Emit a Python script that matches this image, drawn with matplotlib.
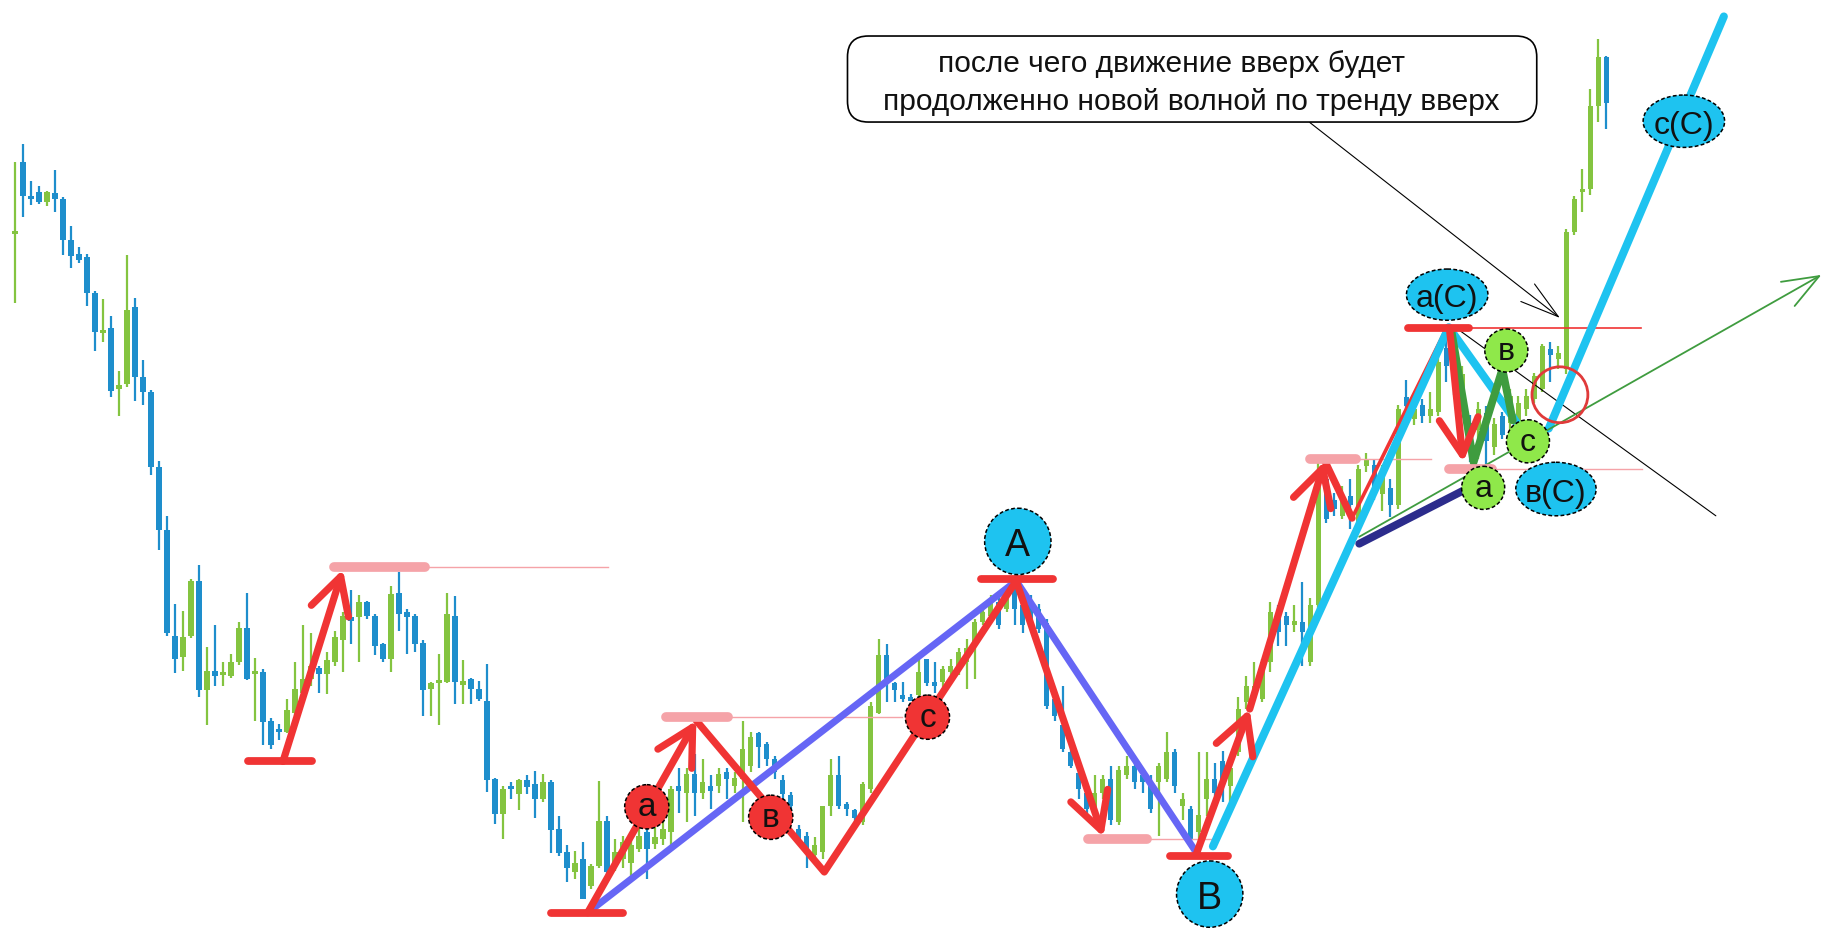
import numpy as np
import matplotlib.pyplot as plt
from matplotlib.patches import Ellipse, FancyArrowPatch, FancyBboxPatch
from matplotlib.transforms import offset_copy

plt.rcParams['font.family'] = ['Liberation Sans', 'DejaVu Sans']

# OHLC per bar, given as chart rows: a smaller number sits higher on the chart
opens = [
    202, 140, 169, 166, 174, 167, 172, 207, 219, 222,
    253, 286, 283, 335, 331, 265, 325, 338, 402, 456,
    547, 565, 547, 500, 594, 577, 580, 582, 570, 540,
    579, 578, 620, 627, 630, 613, 596, 584, 575, 580,
    570, 551, 531, 531, 518, 530, 554, 567, 510, 527,
    530, 553, 593, 587, 587, 530, 588, 584, 593, 603,
    670, 700, 676, 683, 671, 674, 687, 673, 713, 733,
    750, 739, 762, 745, 706, 745, 739, 742, 730, 716,
    726, 722, 716, 676, 682, 666, 682, 676, 676, 664,
    676, 670, 659, 631, 640, 653, 671, 684, 713, 719,
    735, 733, 693, 667, 692, 697, 707, 679, 613, 564,
    588, 598, 600, 598, 567, 587, 587, 578, 576, 570,
    555, 535, 530, 518, 524, 507, 521, 516, 524, 536,
    601, 624, 647, 665, 682, 699, 682, 670, 707, 667,
    659, 667, 676, 673, 670, 647, 693, 696, 716, 687,
    670, 655, 676, 647, 604, 598, 601, 570, 530, 530,
    538, 535, 570, 521, 412, 430, 444, 427, 450, 401,
    400, 425, 420, 435, 342, 361, 349, 358, 355, 300,
    312, 338, 364, 370, 356, 385, 358, 364, 364, 352,
    344, 335, 301, 309, 318, 200, 166, 163, 92, 50,
]
highs = [
    140, 125, 156, 161, 165, 147, 170, 195, 213, 219,
    251, 258, 272, 320, 220, 257, 310, 336, 397, 444,
    520, 526, 498, 486, 557, 538, 570, 563, 535, 510,
    566, 576, 618, 623, 601, 570, 538, 545, 573, 561,
    543, 527, 508, 512, 517, 528, 553, 504, 492, 524,
    528, 551, 587, 563, 510, 513, 568, 583, 586, 571,
    669, 676, 673, 670, 667, 663, 666, 671, 702, 727,
    732, 724, 743, 672, 702, 722, 719, 719, 710, 713,
    707, 704, 676, 661, 661, 649, 653, 667, 661, 661,
    664, 620, 630, 630, 638, 650, 667, 681, 710, 716,
    720, 693, 653, 650, 690, 696, 673, 604, 550, 554,
    587, 587, 597, 567, 567, 570, 573, 567, 558, 550,
    533, 521, 512, 515, 504, 501, 515, 512, 520, 533,
    598, 590, 642, 659, 679, 667, 667, 659, 659, 650,
    656, 662, 667, 656, 630, 644, 682, 693, 647, 647,
    656, 646, 655, 600, 582, 570, 567, 518, 521, 527,
    521, 501, 515, 398, 407, 424, 418, 412, 400, 390,
    395, 400, 412, 349, 327, 349, 344, 338, 306, 285,
    300, 315, 357, 346, 350, 360, 355, 335, 341, 335,
    321, 296, 295, 298, 198, 169, 146, 77, 34, 49,
]
lows = [
    261, 187, 177, 176, 178, 183, 220, 231, 227, 264,
    302, 295, 342, 358, 333, 345, 349, 409, 473, 547,
    579, 577, 549, 600, 624, 590, 590, 583, 572, 585,
    620, 641, 644, 637, 631, 616, 599, 590, 596, 597,
    573, 578, 554, 570, 533, 564, 570, 578, 543, 563,
    561, 616, 616, 624, 588, 606, 606, 606, 603, 681,
    709, 722, 687, 697, 683, 704, 690, 734, 736, 759,
    756, 773, 765, 747, 756, 749, 747, 756, 733, 756,
    730, 727, 727, 699, 707, 702, 687, 696, 682, 687,
    682, 707, 664, 661, 659, 670, 687, 704, 724, 747,
    739, 739, 702, 696, 702, 710, 710, 682, 614, 604,
    604, 604, 603, 600, 590, 596, 591, 587, 581, 593,
    584, 538, 533, 541, 527, 538, 545, 538, 545, 610,
    620, 647, 661, 687, 699, 702, 687, 710, 710, 670,
    679, 682, 699, 719, 673, 682, 705, 728, 725, 702,
    685, 690, 690, 650, 610, 601, 604, 578, 556, 556,
    544, 573, 573, 524, 450, 444, 447, 455, 455, 406,
    430, 440, 445, 438, 356, 366, 364, 364, 358, 329,
    340, 345, 398, 395, 402, 392, 378, 370, 370, 358,
    347, 338, 329, 318, 322, 203, 183, 168, 106, 112,
]
closes = [
    199, 169, 172, 174, 166, 172, 207, 221, 224, 253,
    286, 284, 337, 332, 267, 325, 338, 402, 456, 545,
    567, 548, 500, 594, 577, 582, 578, 570, 540, 584,
    577, 621, 641, 630, 611, 593, 584, 573, 580, 568,
    548, 530, 533, 518, 530, 556, 567, 511, 528, 531,
    554, 594, 588, 585, 528, 587, 586, 593, 601, 671,
    700, 679, 679, 671, 677, 687, 673, 714, 734, 747,
    742, 773, 745, 706, 750, 733, 724, 727, 719, 730,
    720, 713, 679, 680, 666, 682, 673, 680, 666, 670,
    669, 644, 634, 643, 653, 664, 683, 693, 722, 730,
    727, 693, 667, 693, 696, 704, 674, 607, 564, 587,
    594, 601, 601, 578, 588, 590, 576, 573, 561, 558,
    535, 527, 518, 538, 507, 524, 538, 535, 541, 607,
    616, 644, 659, 679, 696, 682, 670, 705, 662, 659,
    673, 673, 696, 659, 647, 676, 687, 722, 701, 670,
    682, 672, 661, 610, 590, 590, 570, 527, 544, 538,
    534, 544, 521, 410, 447, 438, 427, 435, 404, 395,
    420, 410, 435, 352, 350, 352, 358, 352, 312, 315,
    330, 322, 375, 352, 380, 365, 375, 341, 347, 341,
    324, 298, 306, 304, 200, 172, 163, 92, 50, 89,
]

# horizontal marks: (first bar, last bar, level)
red_bars = [(29.1, 37.1, 655), (67.0, 76.0, 785), (120.8, 129.8, 498),
            (144.4, 151.7, 736), (174.2, 181.8, 283)]
pink_bars = [(39.9, 51.2, 488), (81.4, 89.1, 617), (134.2, 141.5, 722),
             (161.9, 167.7, 395), (179.3, 184.7, 404)]
pink_rays = [(51.2, 74.1, 488), (89.1, 110.9, 617), (141.5, 149.5, 722),
             (167.7, 177.1, 395), (184.7, 203.5, 404)]
red_ray = (181.8, 203.3, 283)

# wave drawing, points are (bar, level)
red_arrows = [((33.5, 655), (41.0, 490)), ((71.6, 785), (85.2, 620)),
              ((125.2, 500), (136.1, 720)), ((147.7, 735), (154.4, 610)),
              ((154.4, 610), (163.8, 397)), ((179.4, 284), (181.1, 398))]
red_zigzag = [(85.2, 620), (101.2, 750), (125.2, 500)]
red_dip = [(163.8, 397), (167.2, 446)]
red_thin = [(167.2, 446), (179.0, 283)]
violet_path = [(71.6, 785), (125.2, 500), (147.7, 733)]
cyan_down = [(149.8, 728), (179.3, 282), (187.8, 364)]
cyan_up = [(191.8, 369), (213.7, 15)]
green_zigzag = [(179.6, 284), (182.4, 398), (186.0, 318), (187.3, 362)]
navy_line = [(168.1, 468), (181.2, 422)]
trend_arrow = ((168.1, 462), (225.9, 237))
pointer_arrow = ((161.9, 106), (193.2, 274))
black_line = [(179.9, 281), (212.7, 444)]
ring = (193.2, 340, 48)

# labels: (text, bar, level, width, height)
red_labels = [('a', 79.0, 694, 38, 38), ('в', 94.5, 703, 38, 38), ('c', 114.1, 617, 38, 38)]
cyan_labels = [('A', 125.4, 466, 57, 57), ('B', 149.4, 769, 57, 57)]
lime_labels = [('в', 186.5, 302, 37, 37), ('a', 183.6, 420, 37, 37), ('c', 189.2, 380, 37, 37)]
oval_labels = [('a(C)', 179.1, 254, 70, 44), ('в(C)', 192.7, 421, 69, 46), ('c(C)', 208.7, 105, 70, 45)]

note_lines = ['после чего движение вверх будет', 'продолженно новой волной по тренду вверх']
note_anchor = [(144.6, 61.6), (147.1, 94.5)]
note_box = (104.1, 31.8, 86.2, 73.9)

BLUE = '#1e8ecc'
GREEN = '#84c440'
RED = '#f03434'
PINK = '#f5a3a8'
CYAN = '#1ec3f0'
VIOLET = '#6666f5'
LIME = '#8fe84a'
DKGREEN = '#3f9c3f'
NAVY = '#2c2c8c'
BAR_PX = 6.87  # canvas units per bar, keeps the badges round

fig = plt.figure(figsize=(18.25, 9.37), dpi=100)
ax = fig.add_axes([0, 0, 1, 1])
ax.set_xlim(-1.89, 226.35)
ax.set_ylim(805, 0)
ax.axis('off')

# candles
o, h, l, c = map(np.array, (opens, highs, lows, closes))
idx = np.arange(len(o))
colors = np.where(c < o, GREEN, BLUE)
ax.vlines(idx, h, l, colors=colors, lw=1.6, zorder=1)
ax.bar(idx, np.maximum(np.abs(o - c), 3), bottom=np.minimum(o, c),
       width=0.68, color=colors, zorder=1)


def path(pts, color, lw, z=3):
    xs, ys = zip(*pts)
    ax.plot(xs, ys, color=color, lw=lw, solid_capstyle='round',
            solid_joinstyle='round', zorder=z)


def arrow(p0, p1, color, lw, length, width, z=4):
    ax.add_patch(FancyArrowPatch(p0, p1, arrowstyle=f'->,head_length={length},head_width={width}',
                                 mutation_scale=20, color=color, lw=lw, shrinkA=0, shrinkB=0,
                                 capstyle='round', joinstyle='round', zorder=z))


def badge(text, x, y, w, hgt, face, size, ratio):
    ax.add_patch(Ellipse((x, y), w / BAR_PX, hgt, facecolor=face, edgecolor='black',
                         lw=1.1, ls=(0, (2.5, 1.5)), zorder=6))
    tr = offset_copy(ax.transData, fig=fig, y=-ratio * size / 2, units='points')
    ax.text(x, y, text, transform=tr, ha='center', va='baseline', fontsize=size,
            color='#111111', zorder=7)


for a, b, y in pink_rays:
    ax.plot([a, b], [y, y], color=PINK, lw=1.0, zorder=2)
ax.plot(red_ray[:2], [red_ray[2]] * 2, color=RED, lw=1.2, zorder=2)
path(black_line, 'black', 0.8, z=2)

path(violet_path, VIOLET, 5.0)
path(red_zigzag, RED, 5.2)
path(red_dip, RED, 5.2)
path(red_thin, RED, 2.6)
path(cyan_down, CYAN, 5.8)
path(cyan_up, CYAN, 5.8)
path(green_zigzag, DKGREEN, 5.6)
path(navy_line, NAVY, 5.6)
for p0, p1 in red_arrows:
    arrow(p0, p1, RED, 5.2, 1.3, 0.7)
arrow(*trend_arrow, DKGREEN, 1.3, 1.3, 0.5)
arrow(*pointer_arrow, 'black', 0.8, 1.4, 0.4)

for a, b, y in pink_bars:
    ax.plot([a, b], [y, y], color=PINK, lw=7, solid_capstyle='round', zorder=4)
for a, b, y in red_bars:
    ax.plot([a, b], [y, y], color=RED, lw=5.6, solid_capstyle='round', zorder=5)

ax.add_patch(Ellipse(ring[:2], ring[2] / BAR_PX, ring[2], facecolor='none',
                     edgecolor='#e03a3a', lw=2.0, zorder=5))

for t, x, y, w, hh in red_labels:
    badge(t, x, y, w, hh, RED, 24, 0.52)
for t, x, y, w, hh in cyan_labels:
    badge(t, x, y, w, hh, CYAN, 27, 0.72)
for t, x, y, w, hh in lime_labels:
    badge(t, x, y, w, hh, LIME, 23, 0.52)
for t, x, y, w, hh in oval_labels:
    badge(t, x, y, w, hh, CYAN, 23, 0.72)

# callout
bx, by, bw, bh = note_box
ax.add_patch(FancyBboxPatch((bx, by), bw, bh, boxstyle='round,pad=0,rounding_size=2.6',
                            mutation_aspect=BAR_PX, facecolor='white', edgecolor='black',
                            lw=1.2, zorder=8))
for line, (x, y) in zip(note_lines, note_anchor):
    ax.text(x, y, line, ha='center', va='baseline', fontsize=21.5, color='#111111', zorder=9)

fig.savefig('out.png', dpi=100, facecolor='white')
